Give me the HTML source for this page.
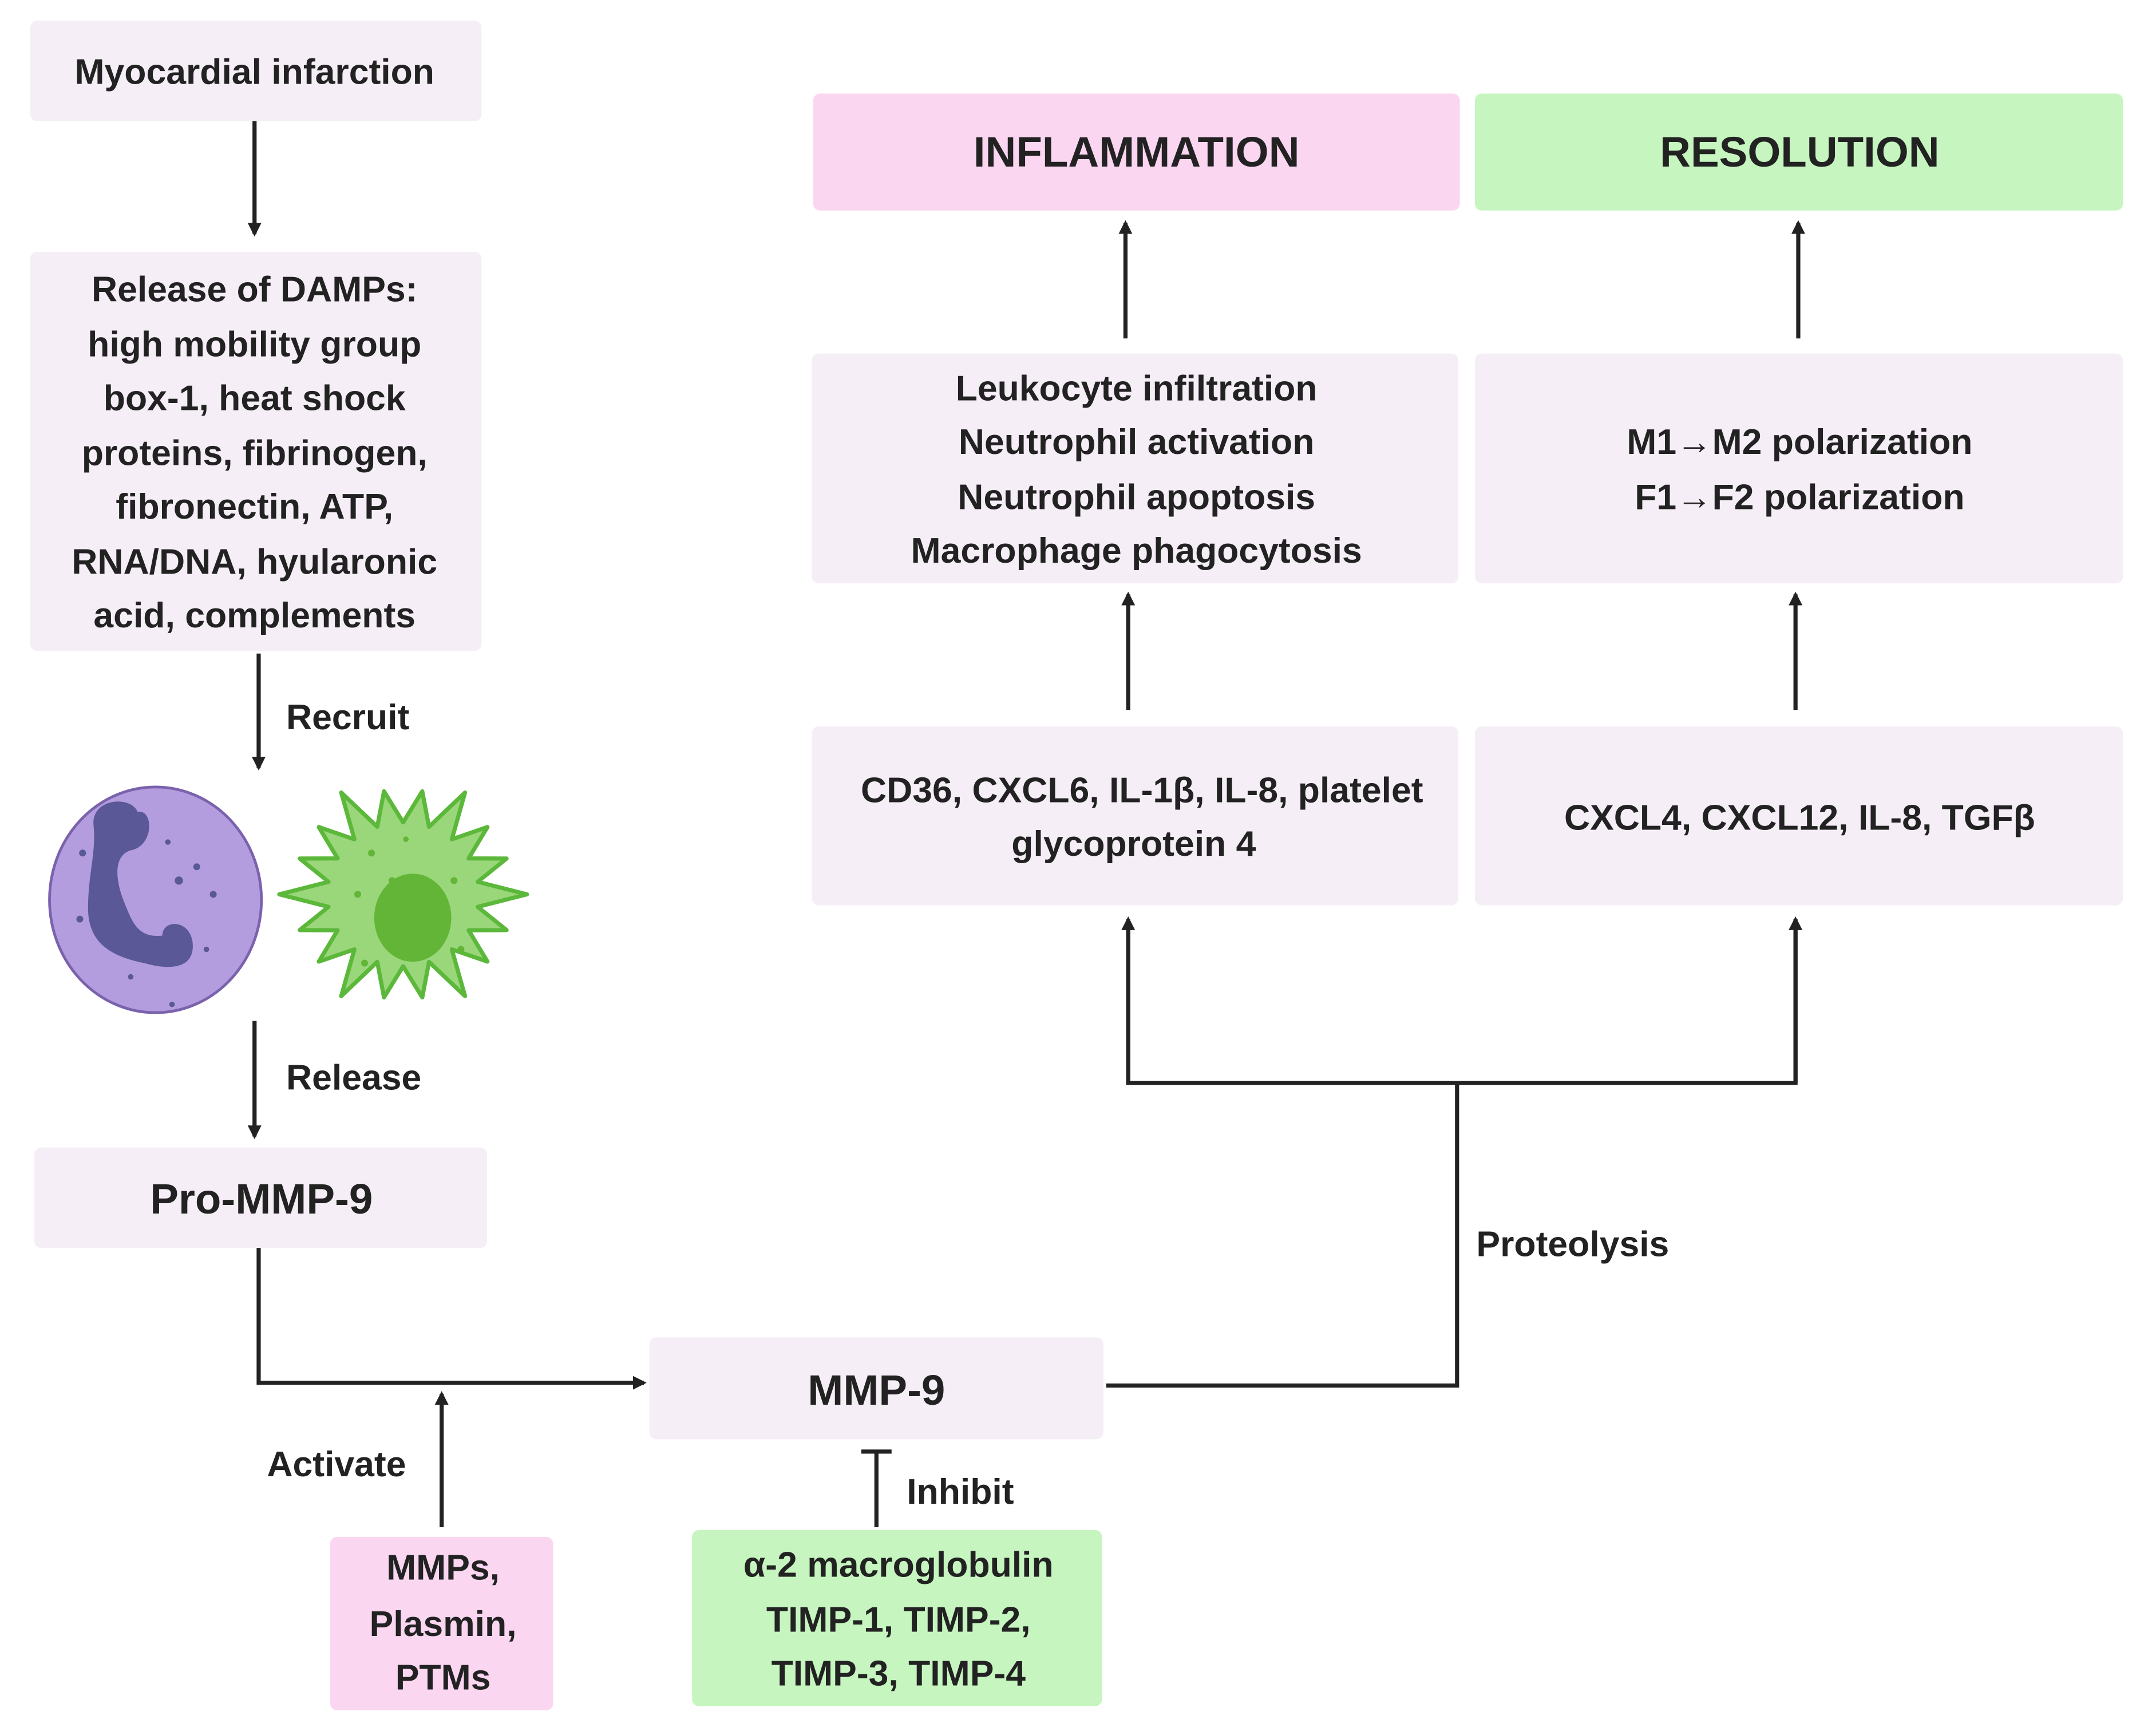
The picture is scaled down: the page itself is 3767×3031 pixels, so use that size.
<!DOCTYPE html>
<html><head><meta charset="utf-8"><style>
html,body{margin:0;padding:0;background:#fff;}
svg{display:block;}
text{font-family:"Liberation Sans",Arial,sans-serif;font-weight:bold;fill:#222;}
</style></head><body>
<svg width="3767" height="3031" viewBox="0 0 1567 1261" preserveAspectRatio="none" xmlns="http://www.w3.org/2000/svg">
<defs>
<marker id="ah" markerWidth="10" markerHeight="10" refX="8" refY="5" orient="auto" markerUnits="userSpaceOnUse">
<path d="M0,0 L10,5 L0,10 z" fill="#222"/></marker>
</defs>
<rect width="1567" height="1261" fill="#fff"/>
<g fill="#f5eef6">
<rect x="22" y="15" width="328" height="73" rx="5"/>
<rect x="22" y="183" width="328" height="290" rx="5"/>
<rect x="25" y="834" width="329" height="73" rx="5"/>
<rect x="472" y="972" width="330" height="74" rx="5"/>
<rect x="590" y="528" width="470" height="130" rx="5"/>
<rect x="1072" y="528" width="471" height="130" rx="5"/>
<rect x="590" y="257" width="470" height="167" rx="5"/>
<rect x="1072" y="257" width="471" height="167" rx="5"/>
</g>
<rect x="591" y="68" width="470" height="85" rx="5" fill="#fad6f1"/>
<rect x="1072" y="68" width="471" height="85" rx="5" fill="#c6f5bf"/>
<rect x="240" y="1117" width="162" height="126" rx="5" fill="#fad6f1"/>
<rect x="503" y="1112" width="298" height="128" rx="5" fill="#c6f5bf"/>

<g stroke="#222" stroke-width="3" fill="none">
<line x1="185" y1="88" x2="185" y2="170" marker-end="url(#ah)"/>
<line x1="188" y1="475" x2="188" y2="558" marker-end="url(#ah)"/>
<line x1="185" y1="742" x2="185" y2="826" marker-end="url(#ah)"/>
<polyline points="188,907 188,1005 468,1005" marker-end="url(#ah)"/>
<line x1="321" y1="1110" x2="321" y2="1013" marker-end="url(#ah)"/>
<line x1="637" y1="1110" x2="637" y2="1055"/>
<line x1="626" y1="1055" x2="648" y2="1055"/>
<polyline points="804,1007 1059,1007 1059,787"/>
<polyline points="820,670 820,787 1305,787 1305,670"/>
<line x1="820" y1="787" x2="820" y2="668" marker-end="url(#ah)"/>
<line x1="1305" y1="787" x2="1305" y2="668" marker-end="url(#ah)"/>
<line x1="820" y1="516" x2="820" y2="432" marker-end="url(#ah)"/>
<line x1="1305" y1="516" x2="1305" y2="432" marker-end="url(#ah)"/>
<line x1="818" y1="246" x2="818" y2="162" marker-end="url(#ah)"/>
<line x1="1307" y1="246" x2="1307" y2="162" marker-end="url(#ah)"/>
</g>

<!-- neutrophil -->
<ellipse cx="113" cy="654" rx="77" ry="82" fill="#b39ddf" stroke="#7a62ad" stroke-width="2"/>
<path d="M68,600 C66,580 95,578 100,590 C112,588 112,615 95,618 C82,622 84,640 90,655 C96,670 100,682 118,680 C118,668 138,668 140,685 C142,705 122,705 105,700 C80,695 64,685 64,660 C64,635 70,620 68,600 z" fill="#5a5896"/>
<g fill="#5a5896"><circle cx="143" cy="630" r="2.5"/><circle cx="130" cy="640" r="3"/><circle cx="155" cy="650" r="2.5"/><circle cx="60" cy="620" r="2.5"/><circle cx="58" cy="668" r="2.5"/><circle cx="150" cy="690" r="2"/><circle cx="95" cy="710" r="2"/><circle cx="125" cy="730" r="2"/><circle cx="122" cy="612" r="2"/></g>
<!-- green cell -->
<polygon fill="#9ad67a" stroke="#5cb83a" stroke-width="3" stroke-linejoin="round" points="383,650 347.2,659.1 368.2,676 340.6,676.1 354.3,698.9 328.4,690 338,724 311.8,699.1 306.9,724.9 293,702.3 279.1,724.9 274.2,699.1 248,724 257.6,690 231.7,698.9 245.4,676.1 217.8,676 238.8,659.1 203,650 238.8,640.9 217.8,624 245.4,623.9 231.7,601.1 257.6,610 248,576 274.2,600.9 279.1,575.1 293,597.7 306.9,575.1 311.8,600.9 338,576 328.4,610 354.3,601.1 340.6,623.9 368.2,624 347.2,640.9"/>
<ellipse cx="300" cy="667" rx="28" ry="32" fill="#62b536"/>
<g fill="#62b536"><circle cx="270" cy="620" r="2.5"/><circle cx="285" cy="640" r="2.5"/><circle cx="260" cy="650" r="2.5"/><circle cx="330" cy="640" r="2.5"/><circle cx="335" cy="690" r="2.5"/><circle cx="265" cy="700" r="2.5"/><circle cx="295" cy="610" r="2"/></g>

<g font-size="26" text-anchor="middle">
<text x="185" y="61">Myocardial infarction</text>
<text x="185" y="219">Release of DAMPs:</text>
<text x="185" y="259">high mobility group</text>
<text x="185" y="298">box-1, heat shock</text>
<text x="185" y="338">proteins, fibrinogen,</text>
<text x="185" y="377">fibronectin, ATP,</text>
<text x="185" y="417">RNA/DNA, hyularonic</text>
<text x="185" y="456">acid, complements</text>
<text x="322" y="1148">MMPs,</text>
<text x="322" y="1189">Plasmin,</text>
<text x="322" y="1228">PTMs</text>
<text x="653" y="1146">α-2 macroglobulin</text>
<text x="653" y="1186">TIMP-1, TIMP-2,</text>
<text x="653" y="1225">TIMP-3, TIMP-4</text>
<text x="826" y="291">Leukocyte infiltration</text>
<text x="826" y="330">Neutrophil activation</text>
<text x="826" y="370">Neutrophil apoptosis</text>
<text x="826" y="409">Macrophage phagocytosis</text>
<text x="1308" y="330">M1→M2 polarization</text>
<text x="1308" y="370">F1→F2 polarization</text>
<text x="830" y="583">CD36, CXCL6, IL-1β, IL-8, platelet</text>
<text x="824" y="622">glycoprotein 4</text>
<text x="1308" y="603">CXCL4, CXCL12, IL-8, TGFβ</text>
</g>
<g font-size="31" text-anchor="middle">
<text x="190" y="882">Pro-MMP-9</text>
<text x="637" y="1021">MMP-9</text>
<text x="826" y="121">INFLAMMATION</text>
<text x="1308" y="121">RESOLUTION</text>
</g>
<g font-size="26" fill="#333">
<text x="208" y="530">Recruit</text>
<text x="208" y="792">Release</text>
<text x="194" y="1073">Activate</text>
<text x="659" y="1093">Inhibit</text>
<text x="1073" y="913">Proteolysis</text>
</g>
</svg>
</body></html>
